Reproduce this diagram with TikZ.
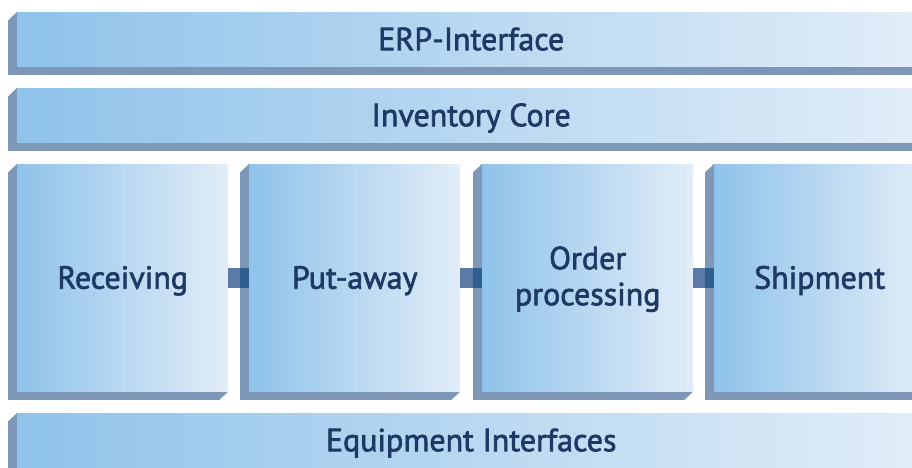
\documentclass[tikz,border=0pt]{standalone}
\usepackage{fontspec}
\setmainfont{PT Sans}
\newfontfamily\lblfont{PT Sans}[FakeBold=2]
\usetikzlibrary{calc,backgrounds}
\definecolor{facel}{HTML}{8FC3EA}
\definecolor{facer}{HTML}{E2EDF8}
\definecolor{sidec}{HTML}{7F97B7}
\definecolor{connc}{HTML}{5B7AA6}
\definecolor{conndark}{HTML}{2E5F8F}
\definecolor{txt}{HTML}{1E3964}
\tikzset{
  face/.style={rectangle, inner sep=0pt, anchor=north west, left color=facel, right color=facer,
    font=\lblfont\fontsize{32}{36}\selectfont, text=txt, align=center, text height=22pt, text depth=0pt},
  bar/.style={face, minimum width=908pt, minimum height=54pt},
  stage/.style={face, minimum width=211pt, minimum height=227pt},
  sidefill/.style={fill=sidec},
  conn/.style={fill=connc},
  conndk/.style={fill=conndark}
}
\begin{document}
\begin{tikzpicture}[x=1pt,y=-1pt]
\useasboundingbox (0,0) rectangle (912,468);
\clip (0,0) rectangle (912,468);
\node[bar] (erp) at (17,12) {ERP-Interface};
\node[bar] (inv) at (17,88) {Inventory Core};
\node[stage] (rec) at (17,164) {Receiving};
\node[stage] (put) at (249,164) {Put-away};
\node[stage, text height=58pt, text depth=3pt] (ord) at (482,164) {Order\\processing};
\node[stage] (shp) at (714,164) {Shipment};
\node[bar] (eqp) at (17,413) {Equipment Interfaces};
\begin{pgfonlayer}{background}
\fill[white] (0,0) rectangle (912,468);
\foreach \n in {erp,inv,rec,put,ord,shp,eqp}{
  \fill[sidefill] (\n.north west) -- ++(-9,8.5) -- ($(\n.south west)+(-9,8.5)$)
    -- ($(\n.south east)+(-9,8.5)$) -- (\n.south east) -- cycle;
}
\end{pgfonlayer}
\foreach \a/\b in {rec/put,put/ord,ord/shp}{
  \fill[conn] ($(\a.east)+(0,-10)$) rectangle ($(\b.west)+(-9,10)$);
  \fill[conndk] ($(\b.west)+(-9,-10)$) rectangle ($(\b.west)+(0,10)$);
}
\end{tikzpicture}
\end{document}
